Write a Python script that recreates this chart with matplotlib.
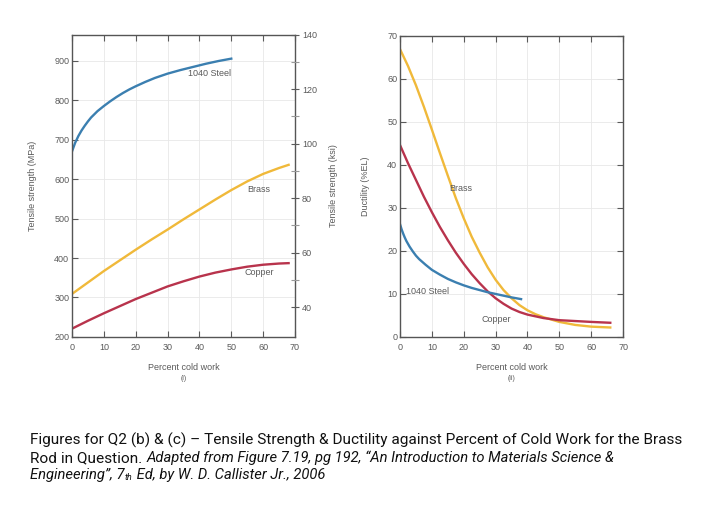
import matplotlib
matplotlib.use("Agg")
import matplotlib.pyplot as plt

# ---- data ----
steel_ts_x = [0, 1, 2, 3, 4, 5, 6, 8, 10, 12, 14, 16, 18, 20, 23, 26, 30, 34, 38, 42, 46, 50]
steel_ts_y = [670, 692, 709, 723, 735, 746, 756, 772, 785, 797, 808, 818, 827, 835, 846, 856, 867, 876, 884, 892, 899, 905]
brass_ts_x = [0, 5, 10, 15, 20, 25, 30, 35, 40, 45, 50, 55, 60, 65, 68]
brass_ts_y = [309, 338, 367, 394, 421, 447, 472, 498, 523, 548, 572, 594, 613, 628, 636]
copper_ts_x = [0, 5, 10, 15, 20, 25, 30, 35, 40, 45, 50, 55, 60, 65, 68]
copper_ts_y = [221, 241, 260, 278, 296, 312, 328, 341, 353, 363, 371, 378, 383, 386, 387]

brass_d_x = [0, 2.5, 5, 7.5, 10, 12.5, 15, 17.5, 20, 22.5, 25, 27.5, 30, 32.5, 35, 37.5, 40, 42.5, 45, 50, 55, 60, 66]
brass_d_y = [66.9, 63.0, 58.5, 53.5, 48.2, 42.8, 37.5, 32.3, 27.6, 23.3, 19.6, 16.2, 13.3, 10.9, 9.0, 7.4, 6.2, 5.3, 4.6, 3.5, 2.8, 2.4, 2.2]
copper_d_x = [0, 2.5, 5, 7.5, 10, 12.5, 15, 17.5, 20, 22.5, 25, 27.5, 30, 32.5, 35, 37.5, 40, 45, 50, 55, 60, 66]
copper_d_y = [44.6, 40.4, 36.5, 32.6, 29.0, 25.6, 22.5, 19.6, 17.0, 14.6, 12.5, 10.6, 9.0, 7.7, 6.6, 5.8, 5.2, 4.4, 3.9, 3.7, 3.5, 3.3]
steel_d_x = [0, 0.5, 1, 1.5, 2, 3, 4, 5, 6, 8, 10, 12.5, 15, 17.5, 20, 22.5, 25, 27.5, 30, 32.5, 35, 38]
steel_d_y = [26.2, 25.0, 24.0, 23.1, 22.3, 21.0, 19.9, 18.9, 18.1, 16.8, 15.6, 14.5, 13.5, 12.7, 12.0, 11.4, 10.9, 10.4, 10.0, 9.6, 9.2, 8.8]

x_ticks = [0, 10, 20, 30, 40, 50, 60, 70]
mpa_ticks = [200, 300, 400, 500, 600, 700, 800, 900]
ksi_ticks = [40, 60, 80, 100, 120, 140]
ksi_minor = [50, 70, 90, 110, 130]
el_ticks = [0, 10, 20, 30, 40, 50, 60, 70]

C_STEEL = "#3b7fb0"
C_BRASS = "#f0b93a"
C_COPPER = "#b8334c"
TXT = "#5a5a5a"
SPINE = "#555555"
GRID = "#e8e8e8"
FS = 6.5

plt.rcParams['font.family'] = ['Liberation Sans', 'DejaVu Sans']

fig = plt.figure(figsize=(7.2, 5.2), dpi=100)

def style(ax):
    for s in ax.spines.values():
        s.set_color(SPINE)
        s.set_linewidth(1.0)
    ax.tick_params(colors=TXT, labelsize=FS, direction='in', length=4, width=0.8)
    ax.tick_params(axis='x', pad=4)
    ax.tick_params(axis='y', pad=2)
    ax.grid(True, color=GRID, linewidth=0.6)
    ax.set_axisbelow(True)

# ---- left panel ----
ax1 = fig.add_axes([0.100, 0.352, 0.3097, 0.581])
style(ax1)
ax1.plot(steel_ts_x, steel_ts_y, color=C_STEEL, lw=1.7)
ax1.plot(brass_ts_x, brass_ts_y, color=C_BRASS, lw=1.7)
ax1.plot(copper_ts_x, copper_ts_y, color=C_COPPER, lw=1.7)
ax1.set_xlim(0, 70)
ax1.set_ylim(200, 140 * 6.895)
ax1.set_xticks(x_ticks)
ax1.set_yticks(mpa_ticks)
ax1.tick_params(top=True)
ax1.set_xlabel("Percent cold work", fontsize=FS, color=TXT, labelpad=8)
ax1.set_ylabel("Tensile strength (MPa)", fontsize=FS, color=TXT, labelpad=12)
ax1.text(0.5, -0.125, "(i)", transform=ax1.transAxes, fontsize=5, color=TXT, ha='center', va='top')
ax1.text(36.5, 880, "1040 Steel", fontsize=FS, color=TXT, va='top')
ax1.text(55, 585, "Brass", fontsize=FS, color=TXT, va='top')
ax1.text(54, 375, "Copper", fontsize=FS, color=TXT, va='top')

ax1r = ax1.twinx()
ax1r.set_ylim(200 / 6.895, 140)
ax1r.set_yticks(ksi_ticks)
ax1r.set_yticks(ksi_minor, minor=True)
for s in ax1r.spines.values():
    s.set_visible(False)
ax1r.tick_params(colors=TXT, labelsize=FS, direction='inout', length=6, width=0.8, pad=2)
ax1r.tick_params(which='minor', direction='inout', length=6, width=0.8, colors="#999999")
ax1r.set_ylabel("Tensile strength (ksi)", fontsize=FS, color=TXT, labelpad=9)

# ---- right panel ----
ax2 = fig.add_axes([0.5556, 0.352, 0.3097, 0.579])
style(ax2)
ax2.plot(brass_d_x, brass_d_y, color=C_BRASS, lw=1.7)
ax2.plot(copper_d_x, copper_d_y, color=C_COPPER, lw=1.7)
ax2.plot(steel_d_x, steel_d_y, color=C_STEEL, lw=1.7)
ax2.set_xlim(0, 70)
ax2.set_ylim(0, 70)
ax2.set_xticks(x_ticks)
ax2.set_yticks(el_ticks)
ax2.tick_params(top=True, right=True)
ax2.set_xlabel("Percent cold work", fontsize=FS, color=TXT, labelpad=8)
ax2.set_ylabel("Ductility (%EL)", fontsize=FS, color=TXT, labelpad=12)
ax2.text(0.5, -0.125, "(ii)", transform=ax2.transAxes, fontsize=5, color=TXT, ha='center', va='top')
ax2.text(15.5, 35.5, "Brass", fontsize=FS, color=TXT, va='top')
ax2.text(2, 11.5, "1040 Steel", fontsize=FS, color=TXT, va='top')
ax2.text(25.5, 5.2, "Copper", fontsize=FS, color=TXT, va='top')

# ---- caption ----
cap_font = ['Roboto', 'DejaVu Sans']
CFS = 11.1
IFS = 10.65
CCOL = '#111111'

def run(pieces, x_px, y_px):
    x = x_px
    for txt, kw in pieces:
        t = fig.text(x / 720, 1 - y_px / 520, txt, family=cap_font, va='baseline',
                     ha='left', color=CCOL, **kw)
        fig.canvas.draw()
        x = t.get_window_extent().x1
    return x

run([("Figures for Q2 (b) & (c) \u2013 Tensile Strength & Ductility against Percent of Cold Work for the Brass",
      dict(fontsize=CFS))], 30, 445)
run([("Rod in Question. ", dict(fontsize=CFS)),
     ("Adapted from Figure 7.19, pg 192, \u201cAn Introduction to Materials Science &",
      dict(fontsize=IFS, style='italic'))], 30, 462)
x = run([("Engineering\u201d, 7", dict(fontsize=IFS, style='italic'))], 30, 479)
x = run([("th", dict(fontsize=6.5, style='italic'))], x + 0.5, 480)
run([(" Ed, by W. D. Callister Jr., 2006", dict(fontsize=IFS, style='italic'))], x, 479)

fig.savefig("out.png", dpi=100, facecolor='white')
